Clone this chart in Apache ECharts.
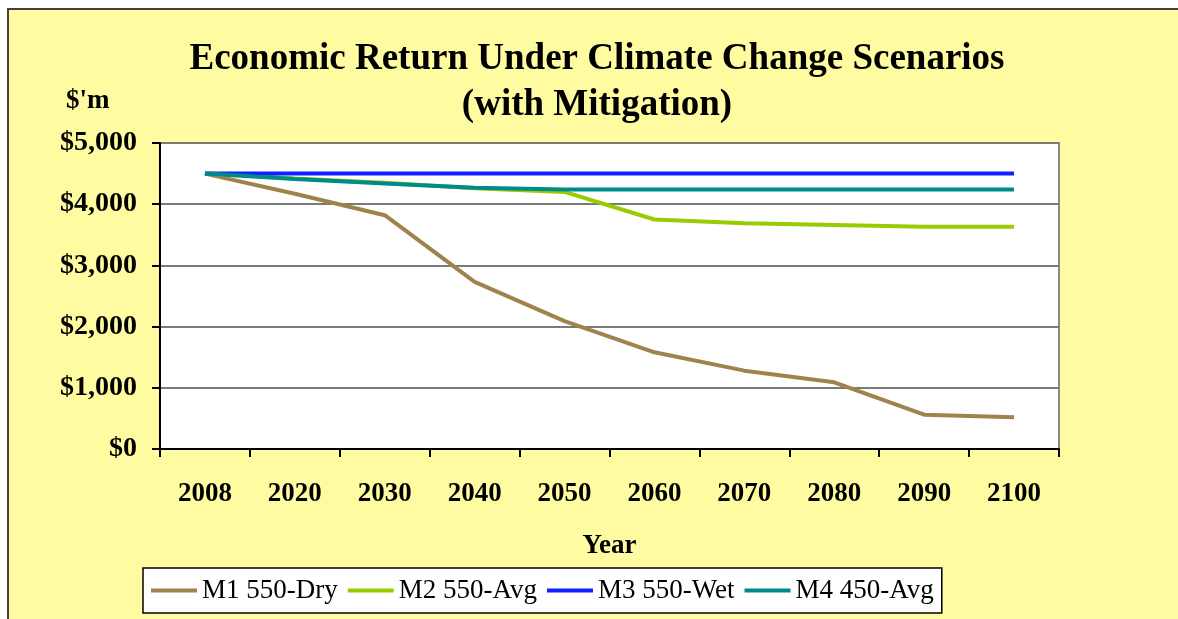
<!DOCTYPE html>
<html>
<head>
<meta charset="utf-8">
<script src="https://cdn.jsdelivr.net/npm/echarts@6/dist/echarts.min.js"></script>
<style>
html,body{margin:0;padding:0;background:#fff;}
#chart{width:1178px;height:619px;}
</style>
</head>
<body>
<div id="chart"></div>
<script>
const categories = ['2008','2020','2030','2040','2050','2060','2070','2080','2090','2100'];
const seriesNames = ['M1 550-Dry','M2 550-Avg','M3 550-Wet','M4 450-Avg'];
const m1 = [4500, 4170, 3820, 2730, 2090, 1580, 1280, 1090, 560, 520];
const m2 = [4500, 4420, 4350, 4260, 4200, 3750, 3690, 3660, 3630, 3630];
const m3 = [4500, 4500, 4500, 4500, 4500, 4500, 4500, 4500, 4500, 4500];
const m4 = [4500, 4410, 4340, 4270, 4240, 4240, 4240, 4240, 4240, 4240];
const colors = ['#A0824C','#99CC00','#1020FF','#008B8B'];

const serif = "'Liberation Serif', 'Times New Roman', serif";
const chart = echarts.init(document.getElementById('chart'));
const allData = [m1, m2, m3, m4];

chart.setOption({
  backgroundColor: 'transparent',
  animation: false,
  graphic: [
    { type: 'rect', z: -100, silent: true,
      shape: { x: 8, y: 9, width: 1300, height: 800 },
      style: { fill: '#FFFBA1', stroke: '#404040', lineWidth: 2 } },
    { type: 'text', left: 66, top: 88, silent: true,
      style: { text: "$'m", font: "bold 27px " + serif, fill: '#000' } }
  ],
  title: {
    text: 'Economic Return Under Climate Change Scenarios\n(with Mitigation)',
    left: 592, top: 31, textAlign: 'center',
    textStyle: { fontFamily: serif, fontWeight: 'bold', fontSize: 37, lineHeight: 46, color: '#000' }
  },
  legend: {
    data: seriesNames,
    left: 143, top: 568,
    padding: [9, 8, 9, 8],
    itemGap: 10, itemWidth: 46, itemHeight: 4,
    icon: 'rect',
    backgroundColor: '#fff', borderColor: '#000', borderWidth: 1.5,
    textStyle: { fontFamily: serif, fontSize: 27, color: '#000' }
  },
  grid: {
    left: 160, right: 119, top: 143, bottom: 170,
    show: true, backgroundColor: '#fff', borderColor: '#8a8a8a', borderWidth: 2
  },
  xAxis: {
    type: 'category', data: categories, boundaryGap: true,
    name: 'Year', nameLocation: 'middle', nameGap: 84,
    nameTextStyle: { fontFamily: serif, fontWeight: 'bold', fontSize: 27, color: '#000' },
    axisLine: { lineStyle: { color: '#000', width: 2 } },
    axisTick: { show: true, inside: false, length: 8, lineStyle: { color: '#000', width: 2 } },
    axisLabel: { margin: 32, fontFamily: serif, fontWeight: 'bold', fontSize: 27, color: '#000' },
    splitLine: { show: false }
  },
  yAxis: {
    type: 'value', min: 0, max: 5000, interval: 1000,
    axisLine: { show: true, lineStyle: { color: '#000', width: 2 } },
    axisTick: { show: true, inside: false, length: 8, lineStyle: { color: '#000', width: 2 } },
    axisLabel: {
      margin: 23, fontFamily: serif, fontWeight: 'bold', fontSize: 28, color: '#000',
      formatter: v => '$' + v.toLocaleString('en-US')
    },
    splitLine: { show: true, lineStyle: { color: '#7a7a7a', width: 2 } }
  },
  series: seriesNames.map((n, i) => ({
    name: n, type: 'line', data: allData[i], symbol: 'none',
    lineStyle: { width: 4, color: colors[i] }, itemStyle: { color: colors[i] }
  }))
});
</script>
</body>
</html>
